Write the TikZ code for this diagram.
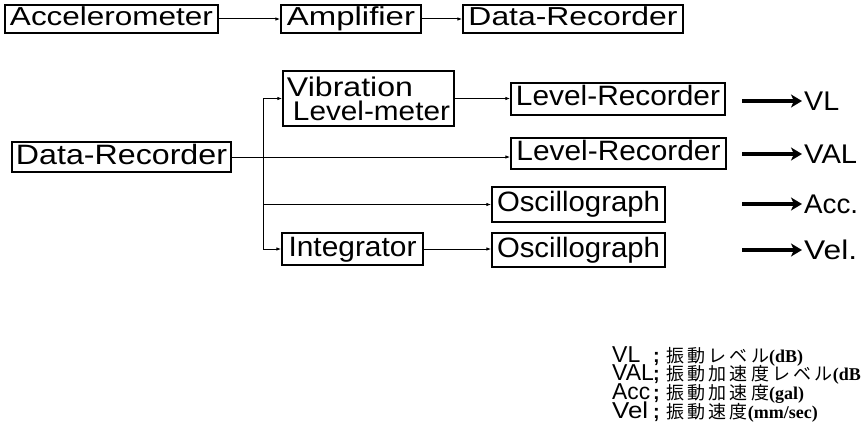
\documentclass[tikz,border=0pt]{standalone}
\usepackage{fontspec}
\setmainfont{Liberation Sans}
\newfontfamily\jfont[LetterSpace=18]{Noto Sans CJK JP}
\newfontfamily\serfont{Liberation Serif}
\usetikzlibrary{arrows.meta}
\newcommand\lat[1]{{\fontsize{18}{18}\selectfont\serfont\bfseries #1}}
\newcommand\legcol[1]{\vtop{\baselineskip=18.7pt\lineskiplimit=-100pt\lineskip=0pt #1}}
\begin{document}
\begin{tikzpicture}[x=1pt,y=-1pt,
  frame/.style={draw, line width=1.3pt, inner sep=0pt},
  box/.style={frame, font=\fontsize{28}{28}\selectfont, text height=20pt, text depth=6pt},
  topbox/.style={frame, font=\fontsize{26}{26}\selectfont, text height=19pt, text depth=5pt, minimum height=28pt},
  link/.style={line width=1pt, -{Latex[length=5pt,width=3.5pt]}},
  wire/.style={line width=1pt},
  fat/.style={line width=4pt, -{Stealth[length=11pt,width=13pt,inset=3pt]}, shorten >=2pt},
  outlab/.style={anchor=west, inner sep=0pt, font=\fontsize{27}{27}\selectfont},
  leglab/.style={anchor=base west, inner sep=0pt, font=\fontsize{23}{23}\selectfont},
  legsemi/.style={anchor=base west, inner sep=0pt, font=\fontsize{20}{20}\selectfont\bfseries},
  legtext/.style={anchor=base west, inner sep=0pt, font=\fontsize{18}{18}\selectfont\jfont}
]
\useasboundingbox (0,0) rectangle (868,436);

% top chain
\node[topbox, minimum width=213pt] (acc) at (111.5,19) {\resizebox{203pt}{\height}{Accelerometer}};
\node[topbox, minimum width=140pt] (amp) at (351,19) {\resizebox{128pt}{\height}{Amplifier}};
\node[topbox, minimum width=220pt] (rec1) at (573,19) {\resizebox{209pt}{\height}{Data-Recorder}};
\draw[link] (acc) -- (amp);
\draw[link] (amp) -- (rec1);

% second diagram
\node[frame, minimum width=171pt, minimum height=55pt, align=left, font=\fontsize{27}{24}\selectfont] (vlm) at (368.5,98.5)
  {\resizebox{126pt}{\height}{Vibration}\\\hspace*{6pt}\resizebox{157pt}{\height}{Level-meter}};
\node[box, minimum width=214pt, minimum height=32pt] (lr1) at (618,99) {\resizebox{204pt}{\height}{Level-Recorder}};
\node[box, minimum width=219pt, minimum height=30pt] (rec2) at (121.5,157) {\resizebox{211pt}{\height}{Data-Recorder}};
\node[box, minimum width=215pt, minimum height=31pt] (lr2) at (618.5,153.5) {\resizebox{204pt}{\height}{Level-Recorder}};
\node[box, minimum width=173pt, minimum height=35pt] (osc1) at (578.5,204.5) {\resizebox{163pt}{\height}{Oscillograph}};
\node[box, minimum width=141pt, minimum height=32pt] (integ) at (352.5,249) {\resizebox{128pt}{\height}{Integrator}};
\node[box, minimum width=173pt, minimum height=34pt] (osc2) at (578.5,250) {\resizebox{163pt}{\height}{Oscillograph}};

\coordinate (ja) at (263,98.5);
\coordinate (jb) at (263,204.5);
\coordinate (jc) at (263,249);
\draw[wire] (ja) -- (jc);
\draw[link] (ja) -- (vlm.west);
\draw[link] (jb) -- (osc1.west);
\draw[link] (jc) -- (integ.west);
\draw[link] (rec2.east) -- (rec2.east -| lr2.west);
\draw[link] (vlm.east) -- (vlm.east -| lr1.west);
\draw[link] (integ.east) -- (integ.east -| osc2.west);

% outputs
\node[outlab] (ovl) at (804,101) {\resizebox{35pt}{\height}{VL}};
\node[outlab] (oval) at (804,154) {\resizebox{53pt}{\height}{VAL}};
\node[outlab] (oacc) at (804,204) {\resizebox{54pt}{\height}{Acc.}};
\node[outlab] (ovel) at (804,250) {\resizebox{53pt}{\height}{Vel.}};
\coordinate (t1) at (742,101);
\coordinate (t2) at (742,154);
\coordinate (t3) at (742,204);
\coordinate (t4) at (742,250);
\draw[fat] (t1) -- (ovl.west);
\draw[fat] (t2) -- (oval.west);
\draw[fat] (t3) -- (oacc.west);
\draw[fat] (t4) -- (ovel.west);

% legend
\node[leglab] (keys) at (612,362) {\legcol{\hbox{VL}\hbox{VAL}\hbox{\resizebox{38pt}{\height}{Acc}}\hbox{\resizebox{36pt}{\height}{Vel}}}};
\node[legsemi] (semis) at (653,362) {\legcol{\hbox{;}\hbox{;}\hbox{;}\hbox{;}}};
\node[legtext] (descr) at (666,362) {\legcol{\hbox{振動レベル\lat{(dB)}}\hbox{振動加速度レベル\lat{(dB}}\hbox{振動加速度\lat{(gal)}}\hbox{振動速度\lat{(mm/sec)}}}};
\end{tikzpicture}
\end{document}
